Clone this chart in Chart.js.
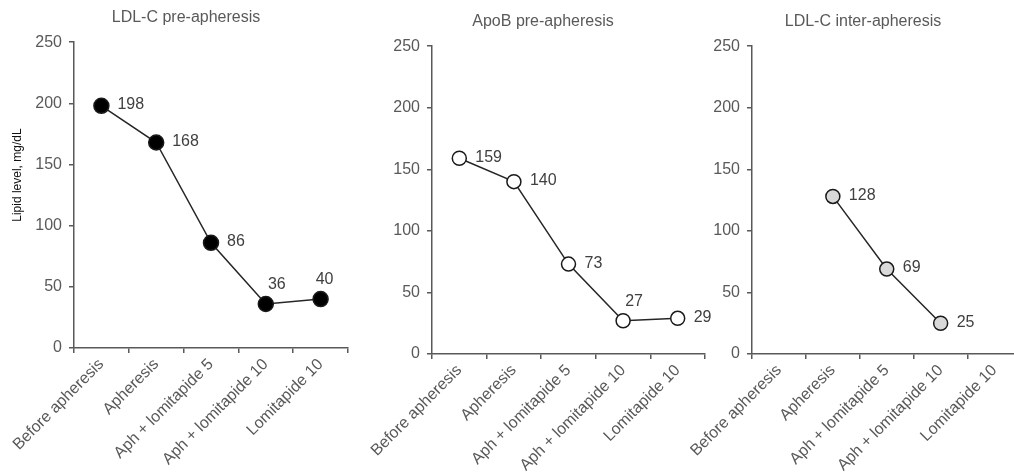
<!DOCTYPE html>
<html>
<head>
<meta charset="utf-8">
<script src="https://cdn.jsdelivr.net/npm/chart.js@4"></script>
<style>
  html, body { margin: 0; padding: 0; background: #fff; overflow: hidden; width: 1014px; height: 473px; }
  .panel { position: absolute; top: 0; height: 473px; }
</style>
</head>
<body>
<div class="panel" style="left:0;width:360px"><canvas id="ldl_pre"></canvas></div>
<div class="panel" style="left:345px;width:370px"><canvas id="apob_pre"></canvas></div>
<div class="panel" style="left:690px;width:340px"><canvas id="ldl_inter"></canvas></div>
<script>
// dados
const categories = ['Before apheresis', 'Apheresis', 'Aph + lomitapide 5', 'Aph + lomitapide 10', 'Lomitapide 10']
const ldlPre = [198, 168, 86, 36, 40]
const apobPre = [159, 140, 73, 27, 29]
const ldlInter = [null, 128, 69, 25, null]
const yTicks = [0, 50, 100, 150, 200, 250]

// onde vai o rótulo de cada ponto
const ldlPreSpots = ['right', 'right', 'right', 'aboveRight', 'above']
const apobPreSpots = ['right', 'right', 'right', 'aboveRight', 'right']
const ldlInterSpots = ['right', 'right', 'right', 'right', 'right']

const fontFamily = '"Liberation Sans", Arial, sans-serif'
Chart.defaults.font.family = fontFamily
Chart.defaults.font.size = 16
Chart.defaults.color = '#595959'

const axisGrey = '#595959'

const pointLabels = {
  id: 'pointLabels',
  afterDatasetsDraw(chart, args, opts) {
    const c = chart.ctx
    const meta = chart.getDatasetMeta(0)
    const values = chart.data.datasets[0].data
    c.save()
    c.font = '16px ' + fontFamily
    c.fillStyle = '#404040'
    c.textBaseline = 'middle'
    meta.data.forEach((pt, i) => {
      if (values[i] == null) return
      const spot = opts.spots[i]
      if (spot === 'right') {
        c.textAlign = 'left'
        c.fillText(values[i], pt.x + 16, pt.y - 1)
      } else {
        c.textAlign = 'center'
        const dx = spot === 'aboveRight' ? 11 : 4
        c.fillText(values[i], pt.x + dx, pt.y - 19)
      }
    })
    c.restore()
  }
}

// título do eixo y, um pouco acima do centro como no original
const sideTitle = {
  id: 'sideTitle',
  afterDraw(chart, args, opts) {
    if (!opts.text) return
    const c = chart.ctx
    const a = chart.chartArea
    c.save()
    c.font = '12px ' + fontFamily
    c.fillStyle = '#111'
    c.textAlign = 'center'
    c.textBaseline = 'middle'
    c.translate(18, (a.top + a.bottom) / 2 - 20)
    c.rotate(-Math.PI / 2)
    c.fillText(opts.text, 0, 0)
    c.restore()
  }
}

function makeChart(id, opts) {
  return new Chart(document.getElementById(id), {
    type: 'line',
    data: {
      labels: categories,
      datasets: [{
        data: opts.values,
        borderColor: '#262626',
        borderWidth: 1.5,
        pointRadius: opts.radius,
        pointHoverRadius: opts.radius,
        pointBackgroundColor: opts.fill,
        pointBorderColor: '#1a1a1a',
        pointBorderWidth: 1.5,
        tension: 0,
        spanGaps: false
      }]
    },
    options: {
      responsive: true,
      maintainAspectRatio: false,
      animation: false,
      events: [],
      layout: { padding: { left: opts.padLeft, right: opts.padRight, top: 0, bottom: 0 } },
      plugins: {
        legend: { display: false },
        tooltip: { enabled: false },
        title: {
          display: true,
          text: opts.title,
          color: axisGrey,
          font: { size: 16, weight: 'normal' },
          padding: { top: opts.titleTop, bottom: 15 }
        },
        pointLabels: { spots: opts.spots },
        sideTitle: { text: opts.yTitle }
      },
      scales: {
        x: {
          type: 'category',
          offset: true,
          grid: { offset: true, drawOnChartArea: false, drawTicks: true, tickLength: 5, color: axisGrey, lineWidth: 1.5 },
          border: { display: true, color: axisGrey, width: 1.5 },
          ticks: { autoSkip: false, minRotation: 45, maxRotation: 45, padding: 2, color: axisGrey, font: { size: 16 } },
          afterFit(s) { s.height = opts.xHeight; s.paddingLeft = 0; s.paddingRight = 0 }
        },
        y: {
          min: 0,
          max: 250,
          afterBuildTicks(s) { s.ticks = yTicks.map(v => ({ value: v })) },
          grid: { drawOnChartArea: false, drawTicks: true, tickLength: 5, color: axisGrey, lineWidth: 1.5 },
          border: { display: true, color: axisGrey, width: 1.5 },
          ticks: { padding: 7, color: axisGrey, font: { size: 16 } },
          afterFit(s) { s.width = opts.yWidth; s.paddingTop = 0; s.paddingBottom = 0 }
        }
      }
    },
    plugins: [pointLabels, sideTitle]
  })
}

makeChart('ldl_pre', {
  values: ldlPre, title: 'LDL-C pre-apheresis', yTitle: 'Lipid level, mg/dL',
  fill: '#000', radius: 7.5, spots: ldlPreSpots,
  padLeft: 24, yWidth: 50, padRight: 12, titleTop: 8, xHeight: 125
})
makeChart('apob_pre', {
  values: apobPre, title: 'ApoB pre-apheresis',
  fill: '#fff', radius: 7, spots: apobPreSpots,
  padLeft: 36, yWidth: 51, padRight: 10, titleTop: 12, xHeight: 119
})
makeChart('ldl_inter', {
  values: ldlInter, title: 'LDL-C inter-apheresis',
  fill: '#d9d9d9', radius: 7, spots: ldlInterSpots,
  padLeft: 11, yWidth: 51, padRight: 5, titleTop: 12, xHeight: 119
})
</script>
</body>
</html>
